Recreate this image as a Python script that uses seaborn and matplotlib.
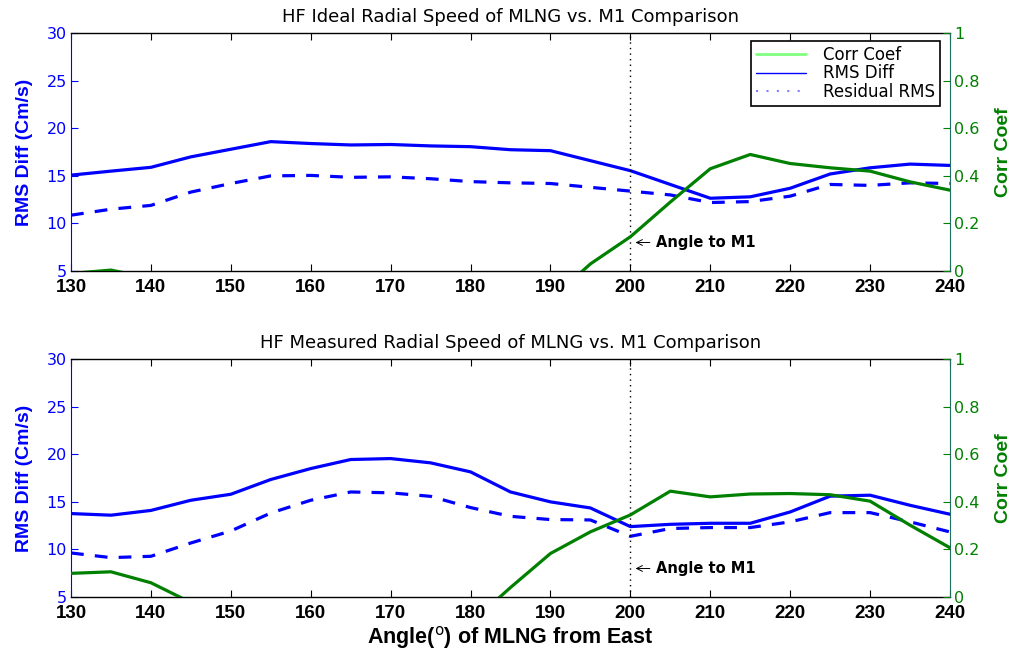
import numpy as np
import pandas as pd
import matplotlib
matplotlib.use("Agg")
import matplotlib.pyplot as plt
import seaborn as sns
from matplotlib.lines import Line2D

angles = list(range(130, 245, 5))

ideal_rms = [15.08, 15.5, 15.9, 17.0, 17.8, 18.6, 18.4, 18.25, 18.3, 18.15, 18.07, 17.75,
             17.65, 16.6, 15.55, 14.1, 12.65, 12.8, 13.7, 15.2, 15.85, 16.24, 16.1]
ideal_resid = [10.87, 11.5, 11.9, 13.3, 14.2, 15.0, 15.05, 14.85, 14.9, 14.7, 14.4, 14.27,
               14.2, 13.8, 13.4, 13.0, 12.2, 12.3, 12.87, 14.1, 14.0, 14.27, 14.2]
ideal_corr = [-0.01, 0.004, -0.03, -0.1, -0.15, -0.2, -0.25, -0.3, -0.3, -0.28, -0.25, -0.2,
              -0.12, 0.03, 0.144, 0.29, 0.43, 0.49, 0.452, 0.434, 0.42, 0.375, 0.34]

meas_rms = [13.77, 13.6, 14.1, 15.17, 15.8, 17.35, 18.5, 19.45, 19.55, 19.1, 18.15, 16.04,
            15.0, 14.36, 12.4, 12.64, 12.75, 12.75, 13.94, 15.6, 15.7, 14.64, 13.7]
meas_resid = [9.63, 9.14, 9.28, 10.68, 11.94, 13.83, 15.17, 16.04, 15.95, 15.58, 14.4, 13.48,
              13.14, 13.1, 11.38, 12.2, 12.3, 12.3, 12.9, 13.87, 13.87, 12.9, 11.84]
meas_corr = [0.0995, 0.106, 0.06, -0.023, -0.1, -0.18, -0.22, -0.24, -0.22, -0.18, -0.11, 0.04,
             0.183, 0.274, 0.345, 0.445, 0.421, 0.433, 0.435, 0.43, 0.403, 0.302, 0.207]

titles = ["HF Ideal Radial Speed of MLNG vs. M1 Comparison",
          "HF Measured Radial Speed of MLNG vs. M1 Comparison"]
x_ticks = list(range(130, 250, 10))
left_ticks = [5, 10, 15, 20, 25, 30]
right_ticks = [0, 0.2, 0.4, 0.6, 0.8, 1]
right_labels = ["0", "0.2", "0.4", "0.6", "0.8", "1"]
legend_labels = ["Corr Coef", "RMS Diff", "Residual RMS"]
m1_angle = 200

sns.set_style("white")
plt.rcParams['font.family'] = ['DejaVu Sans']
plt.rcParams['text.color'] = 'black'
plt.rcParams['axes.labelcolor'] = 'black'

BLUE = "#0000ff"
GREEN = "#008000"
NARROW = ["Liberation Sans Narrow", "Liberation Sans", "DejaVu Sans"]

fig = plt.figure(figsize=(10.13, 6.5), dpi=100)
L, W, H = 0.0701, 0.8677, 0.366
bottoms = [0.583, 0.0815]

panels = [(ideal_rms, ideal_resid, ideal_corr), (meas_rms, meas_resid, meas_corr)]

for i, (rms, resid, corr) in enumerate(panels):
    ax = fig.add_axes([L, bottoms[i], W, H])
    df = pd.DataFrame({"angle": angles, "rms": rms, "resid": resid, "corr": corr})
    sns.lineplot(data=df, x="angle", y="rms", ax=ax, color=BLUE, lw=2.3)
    sns.lineplot(data=df, x="angle", y="resid", ax=ax, color=BLUE, lw=2.3,
                 linestyle=(0, (4, 3.5)))
    ax.axvline(m1_angle, color="black", lw=1.0, linestyle=(0, (1, 3)))
    ax.set_xlim(130, 240)
    ax.set_ylim(5, 30)
    ax.set_xticks(x_ticks)
    ax.set_yticks(left_ticks)
    ax.set_xticklabels([str(t) for t in x_ticks], fontsize=13.5, fontweight="bold",
                       family=NARROW)
    ax.tick_params(axis="x", direction="in", length=5, top=True, bottom=True, pad=6,
                   colors="black")
    ax.tick_params(axis="y", direction="in", length=5, colors=BLUE, labelsize=11.5, pad=3)
    ax.set_xlabel("")
    ax.set_ylabel("RMS Diff (Cm/s)", color=BLUE, fontsize=14, fontweight="bold",
                  labelpad=10, family=NARROW)
    for s in ["top", "bottom"]:
        ax.spines[s].set_color("black")
        ax.spines[s].set_linewidth(1.0)
    ax.spines["left"].set_color(BLUE)
    ax.spines["right"].set_visible(False)
    ax.set_title(titles[i], fontsize=13, pad=8, color="black")

    ax2 = ax.twinx()
    sns.lineplot(data=df, x="angle", y="corr", ax=ax2, color=GREEN, lw=2.3)
    ax2.set_ylim(0, 1)
    ax2.set_xlim(130, 240)
    ax2.set_yticks(right_ticks)
    ax2.set_yticklabels(right_labels)
    ax2.tick_params(axis="y", direction="in", length=5, colors=GREEN, labelsize=11.5, pad=3)
    ax2.set_ylabel("Corr Coef", color=GREEN, fontsize=14, fontweight="bold", labelpad=11,
                   family=NARROW)
    ax2.spines["right"].set_color("#1f6f5f")
    for s in ["top", "bottom", "left"]:
        ax2.spines[s].set_visible(False)
    ax2.annotate("Angle to M1", xy=(m1_angle + 0.3, 0.12), xytext=(m1_angle + 3.2, 0.12),
                 fontsize=10.5, fontweight="bold", va="center", ha="left", color="black",
                 arrowprops=dict(arrowstyle="->", color="black", lw=0.7))

    if i == 0:
        handles = [Line2D([], [], color="#80ff80", lw=2),
                   Line2D([], [], color=BLUE, lw=1),
                   Line2D([], [], color="#8080ff", lw=1.5, linestyle=(0, (1, 4)))]
        leg = ax2.legend(handles, legend_labels, loc="upper right", fontsize=12,
                         frameon=True, fancybox=False, framealpha=1, edgecolor="black",
                         borderpad=0.3, labelspacing=0.02, handlelength=3.0,
                         handletextpad=1.0, borderaxespad=0.0,
                         bbox_to_anchor=(0.9885, 0.967))
        leg.get_frame().set_linewidth(1.2)
    else:
        ax.set_xlabel("Angle($^{\\mathrm{o}}$) of MLNG from East", fontsize=15.5,
                      fontweight="bold", labelpad=1, family=NARROW, color="black")

fig.savefig("out.png", dpi=100)
